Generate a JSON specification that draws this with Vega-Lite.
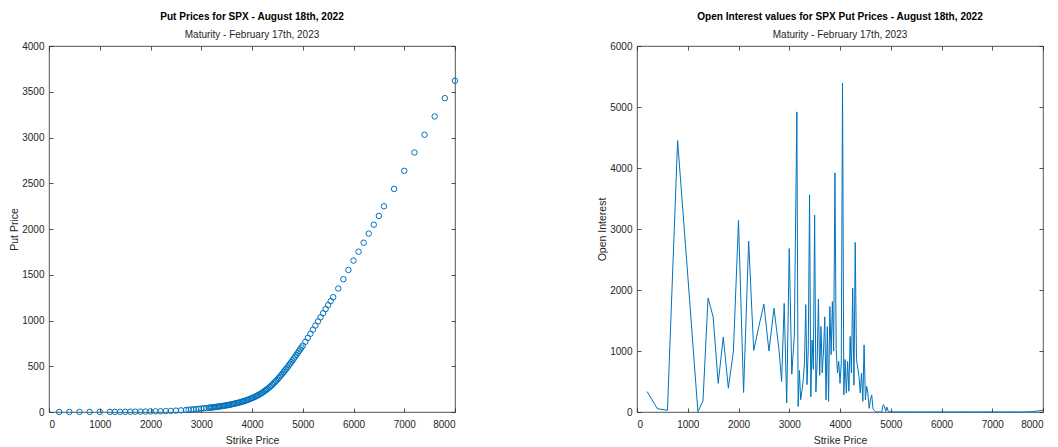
{
  "$schema": "https://vega.github.io/schema/vega-lite/v6.json",
  "padding": {"left": 9, "top": 11, "right": 0, "bottom": 1},
  "bounds": "flush",
  "spacing": 182,
  "config": {
    "font": "Liberation Sans",
    "view": {"stroke": "#262626", "strokeWidth": 0.8},
    "axis": {"domain": false, "format": "d", "offset": -4, "tickColor": "#262626", "tickSize": 4, "tickWidth": 0.8, "labelColor": "#262626", "labelFontSize": 10, "titleColor": "#262626", "titleFontSize": 10.5, "titleFontWeight": "normal", "grid": false, "titlePadding": 4},
    "axisBottom": {"labelPadding": 7, "titlePadding": 6},
    "axisLeft": {"labelPadding": 5, "titlePadding": 2},
    "title": {"fontSize": 10.1, "fontWeight": "bold", "color": "#000000", "subtitleFontSize": 10, "subtitleColor": "#262626", "offset": 1, "subtitlePadding": 8}
  },
  "datasets": {
    "puts": [
      {"strike": 200, "put": 0.5}, {"strike": 400, "put": 0.6}, {"strike": 600, "put": 0.8}, {"strike": 800, "put": 1}, {"strike": 1000, "put": 1.2},
      {"strike": 1200, "put": 1.5}, {"strike": 1300, "put": 1.8}, {"strike": 1400, "put": 2}, {"strike": 1500, "put": 2.5}, {"strike": 1600, "put": 3},
      {"strike": 1700, "put": 3.5}, {"strike": 1800, "put": 4}, {"strike": 1900, "put": 5}, {"strike": 2000, "put": 6}, {"strike": 2100, "put": 7},
      {"strike": 2200, "put": 8}, {"strike": 2300, "put": 10}, {"strike": 2400, "put": 12}, {"strike": 2500, "put": 15}, {"strike": 2600, "put": 18},
      {"strike": 2700, "put": 22}, {"strike": 2750, "put": 24}, {"strike": 2800, "put": 27}, {"strike": 2850, "put": 29}, {"strike": 2900, "put": 32},
      {"strike": 2950, "put": 35}, {"strike": 3000, "put": 38}, {"strike": 3050, "put": 40.5}, {"strike": 3100, "put": 43}, {"strike": 3150, "put": 46},
      {"strike": 3175, "put": 47.5}, {"strike": 3200, "put": 49}, {"strike": 3225, "put": 51}, {"strike": 3250, "put": 53}, {"strike": 3275, "put": 54.5},
      {"strike": 3300, "put": 56}, {"strike": 3325, "put": 58}, {"strike": 3350, "put": 60}, {"strike": 3375, "put": 62}, {"strike": 3400, "put": 64},
      {"strike": 3425, "put": 66}, {"strike": 3450, "put": 68.5}, {"strike": 3475, "put": 70.5}, {"strike": 3500, "put": 73}, {"strike": 3525, "put": 76},
      {"strike": 3550, "put": 78.5}, {"strike": 3575, "put": 81}, {"strike": 3600, "put": 84}, {"strike": 3625, "put": 87.5}, {"strike": 3650, "put": 90.5},
      {"strike": 3675, "put": 93.5}, {"strike": 3700, "put": 97}, {"strike": 3725, "put": 100.5}, {"strike": 3750, "put": 104}, {"strike": 3775, "put": 108},
      {"strike": 3800, "put": 112}, {"strike": 3825, "put": 116}, {"strike": 3850, "put": 120.5}, {"strike": 3875, "put": 125}, {"strike": 3900, "put": 130},
      {"strike": 3925, "put": 135}, {"strike": 3950, "put": 140.5}, {"strike": 3975, "put": 146}, {"strike": 4000, "put": 152}, {"strike": 4025, "put": 158},
      {"strike": 4050, "put": 164}, {"strike": 4075, "put": 171}, {"strike": 4100, "put": 178}, {"strike": 4125, "put": 185.5}, {"strike": 4150, "put": 193},
      {"strike": 4175, "put": 201.5}, {"strike": 4200, "put": 210}, {"strike": 4225, "put": 219.5}, {"strike": 4250, "put": 229.5}, {"strike": 4275, "put": 240},
      {"strike": 4300, "put": 250}, {"strike": 4325, "put": 261}, {"strike": 4350, "put": 273}, {"strike": 4375, "put": 285.5}, {"strike": 4400, "put": 298},
      {"strike": 4425, "put": 312}, {"strike": 4450, "put": 326}, {"strike": 4475, "put": 340.5}, {"strike": 4500, "put": 355}, {"strike": 4525, "put": 371},
      {"strike": 4550, "put": 387}, {"strike": 4575, "put": 403.5}, {"strike": 4600, "put": 420}, {"strike": 4625, "put": 437.5}, {"strike": 4650, "put": 455},
      {"strike": 4675, "put": 472.5}, {"strike": 4700, "put": 490}, {"strike": 4725, "put": 509}, {"strike": 4750, "put": 527.5}, {"strike": 4775, "put": 546},
      {"strike": 4800, "put": 565}, {"strike": 4825, "put": 585}, {"strike": 4850, "put": 605}, {"strike": 4875, "put": 625}, {"strike": 4900, "put": 645},
      {"strike": 4925, "put": 665}, {"strike": 4950, "put": 685}, {"strike": 4975, "put": 705}, {"strike": 5000, "put": 725}, {"strike": 5050, "put": 767},
      {"strike": 5100, "put": 810}, {"strike": 5150, "put": 855}, {"strike": 5200, "put": 900}, {"strike": 5250, "put": 945}, {"strike": 5300, "put": 990},
      {"strike": 5350, "put": 1035}, {"strike": 5400, "put": 1080}, {"strike": 5450, "put": 1125}, {"strike": 5500, "put": 1168}, {"strike": 5550, "put": 1212},
      {"strike": 5600, "put": 1255}, {"strike": 5700, "put": 1350}, {"strike": 5800, "put": 1452}, {"strike": 5900, "put": 1552}, {"strike": 6000, "put": 1655},
      {"strike": 6100, "put": 1752}, {"strike": 6200, "put": 1850}, {"strike": 6300, "put": 1950}, {"strike": 6400, "put": 2047}, {"strike": 6500, "put": 2143},
      {"strike": 6600, "put": 2248}, {"strike": 6800, "put": 2438}, {"strike": 7000, "put": 2636}, {"strike": 7200, "put": 2836}, {"strike": 7400, "put": 3030},
      {"strike": 7600, "put": 3230}, {"strike": 7800, "put": 3430}, {"strike": 8000, "put": 3620}
    ],
    "oi": [
      {"strike": 200, "oi": 335}, {"strike": 400, "oi": 55}, {"strike": 600, "oi": 27}, {"strike": 800, "oi": 4450}, {"strike": 1000, "oi": 2240},
      {"strike": 1200, "oi": 5}, {"strike": 1300, "oi": 180}, {"strike": 1400, "oi": 1870}, {"strike": 1500, "oi": 1560}, {"strike": 1600, "oi": 470},
      {"strike": 1700, "oi": 1230}, {"strike": 1800, "oi": 390}, {"strike": 1900, "oi": 1000}, {"strike": 2000, "oi": 3140}, {"strike": 2100, "oi": 320},
      {"strike": 2200, "oi": 2800}, {"strike": 2300, "oi": 1010}, {"strike": 2400, "oi": 1400}, {"strike": 2500, "oi": 1770}, {"strike": 2600, "oi": 1000},
      {"strike": 2700, "oi": 1700}, {"strike": 2750, "oi": 1350}, {"strike": 2800, "oi": 1000}, {"strike": 2850, "oi": 500}, {"strike": 2900, "oi": 1780},
      {"strike": 2950, "oi": 150}, {"strike": 3000, "oi": 2680}, {"strike": 3050, "oi": 620}, {"strike": 3100, "oi": 1250}, {"strike": 3150, "oi": 4920},
      {"strike": 3175, "oi": 90}, {"strike": 3200, "oi": 680}, {"strike": 3225, "oi": 200}, {"strike": 3250, "oi": 340}, {"strike": 3275, "oi": 520},
      {"strike": 3300, "oi": 800}, {"strike": 3325, "oi": 1760}, {"strike": 3350, "oi": 450}, {"strike": 3375, "oi": 1050}, {"strike": 3400, "oi": 3560},
      {"strike": 3425, "oi": 250}, {"strike": 3450, "oi": 1180}, {"strike": 3475, "oi": 700}, {"strike": 3500, "oi": 3230}, {"strike": 3525, "oi": 330},
      {"strike": 3550, "oi": 830}, {"strike": 3575, "oi": 1850}, {"strike": 3600, "oi": 600}, {"strike": 3625, "oi": 1400}, {"strike": 3650, "oi": 640},
      {"strike": 3675, "oi": 1000}, {"strike": 3700, "oi": 1560}, {"strike": 3725, "oi": 200}, {"strike": 3750, "oi": 1400}, {"strike": 3775, "oi": 175},
      {"strike": 3800, "oi": 1730}, {"strike": 3825, "oi": 940}, {"strike": 3850, "oi": 1810}, {"strike": 3875, "oi": 1000}, {"strike": 3900, "oi": 3920},
      {"strike": 3925, "oi": 1020}, {"strike": 3950, "oi": 640}, {"strike": 3975, "oi": 830}, {"strike": 4000, "oi": 470}, {"strike": 4025, "oi": 800},
      {"strike": 4050, "oi": 5390}, {"strike": 4075, "oi": 280}, {"strike": 4100, "oi": 860}, {"strike": 4125, "oi": 310}, {"strike": 4150, "oi": 830},
      {"strike": 4175, "oi": 340}, {"strike": 4200, "oi": 1240}, {"strike": 4225, "oi": 640}, {"strike": 4250, "oi": 2030}, {"strike": 4275, "oi": 440},
      {"strike": 4300, "oi": 2780}, {"strike": 4325, "oi": 860}, {"strike": 4350, "oi": 720}, {"strike": 4375, "oi": 580}, {"strike": 4400, "oi": 310},
      {"strike": 4425, "oi": 640}, {"strike": 4450, "oi": 175}, {"strike": 4475, "oi": 1100}, {"strike": 4500, "oi": 200}, {"strike": 4525, "oi": 420},
      {"strike": 4550, "oi": 300}, {"strike": 4575, "oi": 60}, {"strike": 4600, "oi": 200}, {"strike": 4625, "oi": 280}, {"strike": 4650, "oi": 50},
      {"strike": 4675, "oi": 30}, {"strike": 4700, "oi": 5}, {"strike": 4725, "oi": 2}, {"strike": 4750, "oi": 0}, {"strike": 4775, "oi": 1},
      {"strike": 4800, "oi": 0}, {"strike": 4825, "oi": 2}, {"strike": 4850, "oi": 120}, {"strike": 4875, "oi": 100}, {"strike": 4900, "oi": 10},
      {"strike": 4925, "oi": 80}, {"strike": 4950, "oi": 10}, {"strike": 4975, "oi": 10}, {"strike": 5000, "oi": 5}, {"strike": 5050, "oi": 3},
      {"strike": 5100, "oi": 2}, {"strike": 5150, "oi": 1}, {"strike": 5200, "oi": 2}, {"strike": 5250, "oi": 0}, {"strike": 5300, "oi": 1},
      {"strike": 5350, "oi": 0}, {"strike": 5400, "oi": 1}, {"strike": 5450, "oi": 0}, {"strike": 5500, "oi": 1}, {"strike": 5550, "oi": 0},
      {"strike": 5600, "oi": 1}, {"strike": 5700, "oi": 0}, {"strike": 5800, "oi": 1}, {"strike": 5900, "oi": 0}, {"strike": 6000, "oi": 2},
      {"strike": 6100, "oi": 0}, {"strike": 6200, "oi": 1}, {"strike": 6300, "oi": 0}, {"strike": 6400, "oi": 1}, {"strike": 6500, "oi": 2},
      {"strike": 6600, "oi": 0}, {"strike": 6800, "oi": 1}, {"strike": 7000, "oi": 2}, {"strike": 7200, "oi": 0}, {"strike": 7400, "oi": 1},
      {"strike": 7600, "oi": 0}, {"strike": 7800, "oi": 5}, {"strike": 8000, "oi": 30}
    ]
  },
  "hconcat": [
    {
      "width": 406,
      "height": 366,
      "title": {"text": "Put Prices for SPX - August 18th, 2022", "subtitle": "Maturity - February 17th, 2023"},
      "data": {"name": "puts"},
      "layer": [
        {
          "mark": {"type": "point", "shape": "circle", "filled": false, "size": 30, "strokeWidth": 1, "color": "#0072BD", "opacity": 1},
          "encoding": {
            "x": {"field": "strike", "type": "quantitative", "scale": {"domain": [0, 8000], "nice": false}, "axis": {"orient": "bottom", "title": "Strike Price", "values": [0, 1000, 2000, 3000, 4000, 5000, 6000, 7000, 8000]}},
            "y": {"field": "put", "type": "quantitative", "scale": {"domain": [0, 4000], "nice": false}, "axis": {"orient": "left", "title": "Put Price", "values": [0, 500, 1000, 1500, 2000, 2500, 3000, 3500, 4000]}}
          }
        },
        {
          "mark": {"type": "point", "opacity": 0},
          "encoding": {
            "x": {"field": "strike", "type": "quantitative", "axis": {"orient": "top", "title": null, "labels": false, "values": [0, 1000, 2000, 3000, 4000, 5000, 6000, 7000, 8000]}},
            "y": {"field": "put", "type": "quantitative", "axis": {"orient": "right", "title": null, "labels": false, "values": [0, 500, 1000, 1500, 2000, 2500, 3000, 3500, 4000]}}
          }
        }
      ],
      "resolve": {"axis": {"x": "independent", "y": "independent"}}
    },
    {
      "width": 406,
      "height": 366,
      "title": {"text": "Open Interest values for SPX Put Prices - August 18th, 2022", "subtitle": "Maturity - February 17th, 2023"},
      "data": {"name": "oi"},
      "layer": [
        {
          "mark": {"type": "line", "color": "#0072BD", "strokeWidth": 1},
          "encoding": {
            "x": {"field": "strike", "type": "quantitative", "scale": {"domain": [0, 8000], "nice": false}, "axis": {"orient": "bottom", "title": "Strike Price", "values": [0, 1000, 2000, 3000, 4000, 5000, 6000, 7000, 8000]}},
            "y": {"field": "oi", "type": "quantitative", "scale": {"domain": [0, 6000], "nice": false}, "axis": {"orient": "left", "title": "Open Interest", "values": [0, 1000, 2000, 3000, 4000, 5000, 6000]}}
          }
        },
        {
          "mark": {"type": "point", "opacity": 0},
          "encoding": {
            "x": {"field": "strike", "type": "quantitative", "axis": {"orient": "top", "title": null, "labels": false, "values": [0, 1000, 2000, 3000, 4000, 5000, 6000, 7000, 8000]}},
            "y": {"field": "oi", "type": "quantitative", "axis": {"orient": "right", "title": null, "labels": false, "values": [0, 1000, 2000, 3000, 4000, 5000, 6000]}}
          }
        }
      ],
      "resolve": {"axis": {"x": "independent", "y": "independent"}}
    }
  ]
}
